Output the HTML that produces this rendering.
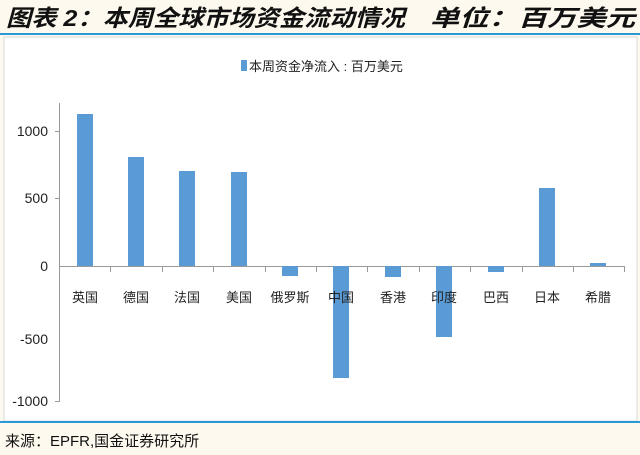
<!DOCTYPE html>
<html><head><meta charset="utf-8"><style>
body{margin:0;width:640px;height:455px;background:#fdf9ee;overflow:hidden;font-family:"Liberation Sans","Noto Sans CJK SC",sans-serif}
</style></head><body>
<svg width="640" height="455" xmlns="http://www.w3.org/2000/svg" style="position:absolute;left:0;top:0">
<text x="6" y="26" font-family="Liberation Sans,Noto Sans CJK SC,sans-serif" font-size="23" font-weight="bold" font-style="italic" fill="#111" textLength="399" lengthAdjust="spacingAndGlyphs">图表 2：本周全球市场资金流动情况</text>
<text x="430" y="26" font-family="Liberation Sans,Noto Sans CJK SC,sans-serif" font-size="23" font-weight="bold" font-style="italic" fill="#111" textLength="205" lengthAdjust="spacingAndGlyphs">单位：百万美元</text>
<rect x="0" y="33" width="640" height="2" fill="#2a9ad6"/>
<rect x="4" y="37" width="633" height="384" fill="#fff" stroke="#d8d8d8"/>
<rect x="0" y="421" width="640" height="2" fill="#2a9ad6"/>
<rect x="241" y="60" width="6" height="11" fill="#5b9bd5"/>
<text x="249" y="71" font-size="13" fill="#222">本周资金净流入 : 百万美元</text>
<g stroke="#999" stroke-width="1">
<line x1="59.5" y1="103" x2="59.5" y2="402"/>
<line x1="55" y1="131.5" x2="59" y2="131.5"/>
<line x1="55" y1="198.5" x2="59" y2="198.5"/>
<line x1="55" y1="401.5" x2="59" y2="401.5"/>
<line x1="59" y1="266.5" x2="624" y2="266.5"/>
</g>
<g stroke="#999">
<line x1="59.5" y1="266" x2="59.5" y2="272"/><line x1="110.5" y1="266" x2="110.5" y2="272"/><line x1="162.5" y1="266" x2="162.5" y2="272"/><line x1="213.5" y1="266" x2="213.5" y2="272"/><line x1="265.5" y1="266" x2="265.5" y2="272"/><line x1="316.5" y1="266" x2="316.5" y2="272"/><line x1="367.5" y1="266" x2="367.5" y2="272"/><line x1="419.5" y1="266" x2="419.5" y2="272"/><line x1="470.5" y1="266" x2="470.5" y2="272"/><line x1="522.5" y1="266" x2="522.5" y2="272"/><line x1="573.5" y1="266" x2="573.5" y2="272"/><line x1="624.5" y1="266" x2="624.5" y2="272"/>
</g>
<g font-size="14" fill="#222" text-anchor="end">
<text x="48" y="136">1000</text><text x="48" y="203">500</text><text x="48" y="271">0</text><text x="48" y="344">-500</text><text x="48" y="406">-1000</text>
</g>
<g fill="#5b9bd5">
<rect x="77" y="114" width="16" height="152"/>
<rect x="128" y="157" width="16" height="109"/>
<rect x="179" y="171" width="16" height="95"/>
<rect x="231" y="172" width="16" height="94"/>
<rect x="282" y="266" width="16" height="10"/>
<rect x="333" y="266" width="16" height="112"/>
<rect x="385" y="266" width="16" height="11"/>
<rect x="436" y="266" width="16" height="71"/>
<rect x="488" y="266" width="16" height="6"/>
<rect x="539" y="188" width="16" height="78"/>
<rect x="590" y="263" width="16" height="3"/>
</g>
<g font-size="13" fill="#222" text-anchor="middle">
<text x="85" y="302">英国</text><text x="136" y="302">德国</text><text x="187" y="302">法国</text><text x="239" y="302">美国</text><text x="290" y="302">俄罗斯</text><text x="341" y="302">中国</text><text x="393" y="302">香港</text><text x="444" y="302">印度</text><text x="496" y="302">巴西</text><text x="547" y="302">日本</text><text x="598" y="302">希腊</text>
</g>
<text x="5" y="446" font-size="15" fill="#111">来源：EPFR,国金证券研究所</text>
</svg>
</body></html>
